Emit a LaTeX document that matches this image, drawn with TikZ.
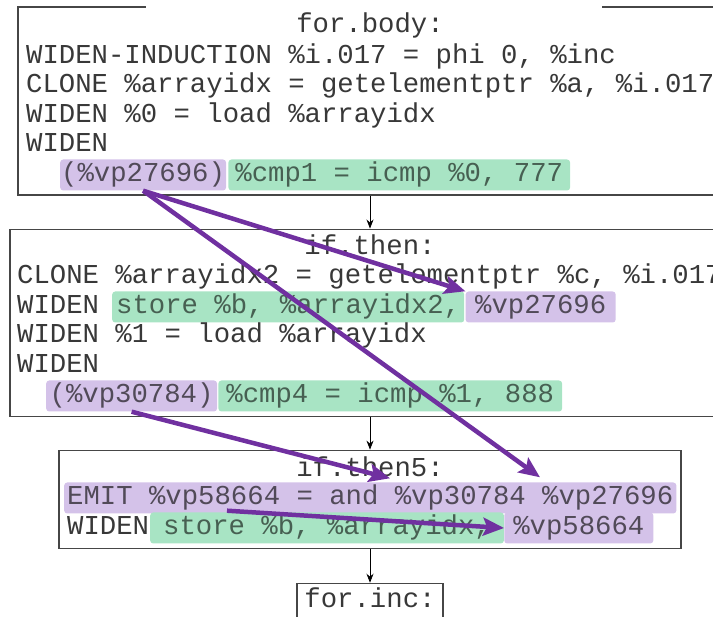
\documentclass[tikz,border=0pt]{standalone}
\usepackage{fontspec}
\usetikzlibrary{arrows.meta, positioning}
\newfontfamily\codefont{Liberation Mono}
\definecolor{vpline}{RGB}{112,48,160}
\definecolor{vpfill}{RGB}{212,194,233}
\definecolor{opfill}{RGB}{168,228,196}
\definecolor{frame}{RGB}{70,70,70}
\frenchspacing

\begin{document}
\begin{tikzpicture}[
    x=1pt, y=-1pt,
    node distance = 33pt and 2pt,
    block/.style = {rectangle, draw=frame, line width=1.1pt, inner sep=0pt},
    code/.style = {inner sep=0pt, anchor=base west, text=black!78,
      font=\codefont\fontsize{27.3}{30}\selectfont},
    hl/.style = {code, rounded corners=3pt, inner xsep=3pt, inner ysep=1.5pt,
      text height=21pt, text depth=7pt},
    vp/.style = {hl, fill=vpfill, text=vpfill!38!black},
    op/.style = {hl, fill=opfill, text=opfill!42!black},
    pil/.style = {black, line width=0.8pt, -{Stealth[length=9pt, width=7pt]}},
    dep/.style = {vpline, line width=4.5pt, -{Stealth[length=21pt, width=18pt, inset=4pt]}}
    ]

  \useasboundingbox (0,0) rectangle (713,617);
  \clip (0,0) rectangle (713,617);

  % basic blocks
  \node[block, minimum width=704pt, minimum height=188pt] (body) at (370,101) {};
  \node[block, minimum width=720pt, minimum height=187pt, below=of body] (then) {};
  \node[block, minimum width=622pt, minimum height=98pt, below=of then] (then5) {};
  \node[block, minimum width=146pt, minimum height=80pt, below=34pt of then5] (inc) {};
  \fill[white] (146,2) rectangle (602,12);

  \node[code, anchor=base] (tbody) at ([yshift=-26pt]body.north) {for.body:};
  \node[code] (b1) at (26,64) {WIDEN-INDUCTION \%i.017 = phi 0, \%inc};
  \node[code] (b2) at (26,93) {CLONE \%arrayidx = getelementptr \%a, \%i.017};
  \node[code] (b3) at (26,123) {WIDEN \%0 = load \%arrayidx};
  \node[code] (b4) at (26,152) {WIDEN};
  \node[vp, inner xsep=1pt] (vpa) at (60,182) {(\%vp27696)};
  \node[op, inner xsep=7pt, right=2pt of vpa] (cmpa) {\%cmp1 = icmp \%0, 777};

  \node[code, anchor=base] (tthen) at ([yshift=-26pt]then.north) {if.then:};
  \node[code] (t1) at (17,284) {CLONE \%arrayidx2 = getelementptr \%c, \%i.017};
  \node[code] (t2) at (17,314) {WIDEN};
  \node[op, inner xsep=4pt] (sta) at (112,314) {store \%b, \%arrayidx2,};
  \node[vp, inner xsep=9.5pt, right=1pt of sta] (use) {\%vp27696};
  \node[code] (t3) at (17,343) {WIDEN \%1 = load \%arrayidx};
  \node[code] (t4) at (17,373) {WIDEN};
  \node[vp, inner xsep=3.5pt] (vpb) at (46,403) {(\%vp30784)};
  \node[op, inner xsep=8pt, right=1pt of vpb] (cmpb) {\%cmp4 = icmp \%1, 888};

  \node[code, anchor=base] (tthen5) at ([yshift=-27pt]then5.north) {if.then5:};
  \node[vp] (emit) at (64,505) {EMIT \%vp58664 = and \%vp30784 \%vp27696};
  \node[code] (e1) at (67,535) {WIDEN};
  \node[op, inner xsep=13pt] (stb) at (150,535) {store \%b, \%arrayidx,};
  \node[vp, inner xsep=9pt, right=0pt of stb] (def) {\%vp58664};

  \node[code, anchor=base] (tinc) at ([yshift=-25pt]inc.north) {for.inc:};

  \coordinate (t30784) at ([xshift=326pt, yshift=4pt]emit.north west);
  \coordinate (t27696) at ([xshift=476pt, yshift=5pt]emit.north west);
  \coordinate (s58664) at ([xshift=163pt, yshift=3pt]emit.south west);

  \draw[pil] (body.south) -- (then.north);
  \draw[pil] (then.south) -- (then5.north);
  \draw[pil] (then5.south) -- (inc.north);

  \draw[dep] (vpa.south) -- (use.north west);
  \draw[dep] (vpa.south) -- (t27696);
  \draw[dep] (vpb.south) -- (t30784);
  \draw[dep] (s58664) -- (def.west);
\end{tikzpicture}
\end{document}
